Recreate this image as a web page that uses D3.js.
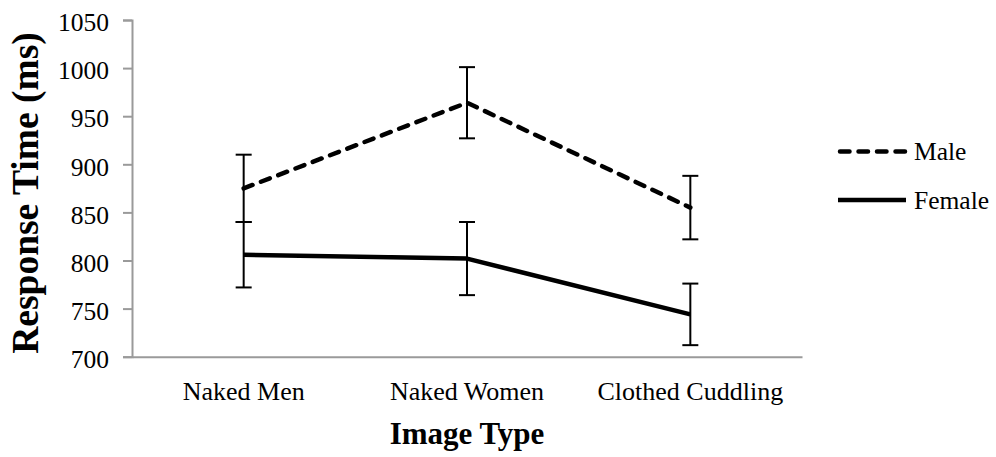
<!DOCTYPE html>
<html>
<head>
<meta charset="utf-8">
<script src="https://cdn.jsdelivr.net/npm/d3@7/dist/d3.min.js"></script>
<style>
  html, body { margin: 0; padding: 0; background: #fff; }
  svg, svg text { font-family: "Liberation Serif", "Times New Roman", serif; }
</style>
</head>
<body>
<svg id="chart" width="996" height="457"></svg>
<script>
// Mean response times with error bars, by image type and participant sex
const categories = ["Naked Men", "Naked Women", "Clothed Cuddling"];
const seriesNames = ["Male", "Female"];
const maleMeans = [875, 964, 855];
const maleErrors = [35, 37, 33];
const femaleMeans = [806, 802, 744];
const femaleErrors = [34, 38, 32];
const yTicks = [700, 750, 800, 850, 900, 950, 1000, 1050];

const svg = d3.select("#chart");
const plot = { left: 132, right: 802, top: 20, bottom: 356.7 };

const x = d3.scaleBand().domain(categories).range([plot.left, plot.right]);
const cx = c => x(c) + x.bandwidth() / 2;
const y = d3.scaleLinear().domain([700, 1050]).range([plot.bottom, plot.top]);

const axisColor = "#9a9a9a";
const serif = "'Liberation Serif', 'Times New Roman', serif";

// y axis
const yAxis = svg.append("g")
  .attr("transform", `translate(${plot.left},0)`)
  .call(d3.axisLeft(y).tickValues(yTicks).tickSize(9).tickPadding(14).tickFormat(d3.format("d")));
yAxis.attr("font-family", null).attr("font-size", null);
yAxis.select(".domain").attr("stroke", axisColor).attr("stroke-width", 2);
yAxis.selectAll(".tick line").attr("stroke", axisColor).attr("stroke-width", 2);
yAxis.selectAll(".tick text")
  .attr("fill", "#000")
  .style("font-family", serif)
  .style("font-size", "25.5px")
  .attr("dy", "0.42em");

// x axis
const xAxis = svg.append("g")
  .attr("transform", `translate(0,${plot.bottom})`)
  .call(d3.axisBottom(x).tickSize(0).tickPadding(25));
xAxis.attr("font-family", null).attr("font-size", null);
xAxis.select(".domain").attr("stroke", axisColor).attr("stroke-width", 2);
xAxis.selectAll(".tick text")
  .attr("fill", "#000")
  .style("font-family", serif)
  .style("font-size", "26px");

// axis titles
svg.append("text")
  .attr("x", (plot.left + plot.right) / 2)
  .attr("y", 444)
  .attr("text-anchor", "middle")
  .style("font-weight", "bold")
  .style("font-size", "31px")
  .text("Image Type");

svg.append("text")
  .attr("transform", "translate(37.5,193) rotate(-90)")
  .attr("text-anchor", "middle")
  .style("font-weight", "bold")
  .style("font-size", "37.5px")
  .text("Response Time (ms)");

const series = [
  { name: seriesNames[0], means: maleMeans, errors: maleErrors, dash: "9.5,9" },
  { name: seriesNames[1], means: femaleMeans, errors: femaleErrors, dash: null }
];

const line = d3.line().x(d => cx(d.cat)).y(d => y(d.v));

// error bars
const capHalf = 8;
series.forEach(s => {
  const g = svg.append("g").attr("stroke", "#000").attr("stroke-width", 2).attr("fill", "none");
  categories.forEach((c, i) => {
    const hi = y(s.means[i] + s.errors[i]);
    const lo = y(s.means[i] - s.errors[i]);
    const xc = cx(c);
    g.append("line").attr("x1", xc).attr("x2", xc).attr("y1", hi).attr("y2", lo);
    g.append("line").attr("x1", xc - capHalf).attr("x2", xc + capHalf).attr("y1", hi).attr("y2", hi);
    g.append("line").attr("x1", xc - capHalf).attr("x2", xc + capHalf).attr("y1", lo).attr("y2", lo);
  });
});

// series lines
series.forEach(s => {
  const pts = categories.map((c, i) => ({ cat: c, v: s.means[i] }));
  svg.append("path")
    .datum(pts)
    .attr("d", line)
    .attr("fill", "none")
    .attr("stroke", "#000")
    .attr("stroke-width", 4.5)
    .attr("stroke-linecap", s.dash ? "round" : "butt")
    .attr("stroke-linejoin", "round")
    .attr("stroke-dasharray", s.dash);
});

// legend
const legendY = [151.5, 200];
series.forEach((s, i) => {
  const g = svg.append("g").attr("transform", `translate(0,${legendY[i]})`);
  g.append("line")
    .attr("x1", s.dash ? 840 : 838).attr("x2", 906)
    .attr("y1", 0).attr("y2", 0)
    .attr("stroke", "#000")
    .attr("stroke-width", 4.5)
    .attr("stroke-linecap", s.dash ? "round" : "butt")
    .attr("stroke-dasharray", s.dash);
  g.append("text")
    .attr("x", 914)
    .attr("y", 0)
    .attr("dy", "0.35em")
    .style("font-size", "25.5px")
    .text(s.name);
});
</script>
</body>
</html>
